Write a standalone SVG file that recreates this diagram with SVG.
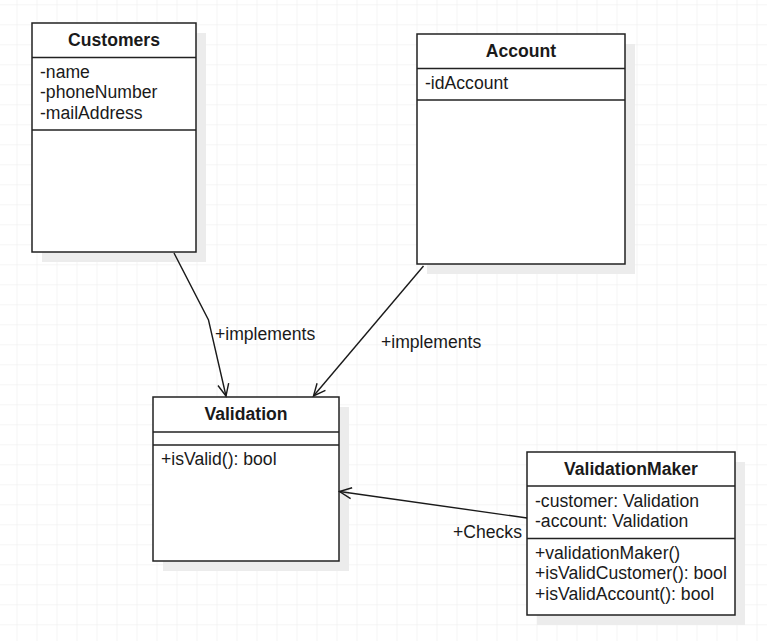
<svg xmlns="http://www.w3.org/2000/svg" width="767" height="641" viewBox="0 0 767 641">
<defs>
<pattern id="grid" x="-2.5" y="4.3" width="20" height="20" patternUnits="userSpaceOnUse">
<path d="M0 0 H20 M20 0 V20" fill="none" stroke="#ebebeb" stroke-width="1"/>
</pattern>
<marker id="open" viewBox="-14 -7 16 14" refX="0" refY="0" markerWidth="16" markerHeight="14" markerUnits="userSpaceOnUse" orient="auto">
<path d="M-12,-5.5 L0,0 L-12,5.5" fill="none" stroke="#1a1a1a" stroke-width="1.4"/>
</marker>
</defs>
<style>
.box{fill:#fff;stroke:#222;stroke-width:1.5}
.shadow{fill:#ececec}
.sep{stroke:#222;stroke-width:1.5}
text{font-family:"Liberation Sans",Arial,sans-serif;font-size:17.6px;fill:#1a1a1a}
.title{font-weight:bold;text-anchor:middle}
.edge{fill:none;stroke:#1a1a1a;stroke-width:1.4;marker-end:url(#open)}
</style>
<rect width="767" height="641" fill="#fff"/>
<rect width="767" height="641" fill="url(#grid)"/>

<g id="customers">
<rect class="shadow" x="42" y="33" width="164" height="229"/>
<rect class="box" x="32" y="23" width="164" height="229"/>
<line class="sep" x1="32" y1="57.5" x2="196" y2="57.5"/>
<line class="sep" x1="32" y1="130" x2="196" y2="130"/>
<text class="title" x="114" y="45.7">Customers</text>
<text x="40" y="77.5">-name</text>
<text x="40" y="98">-phoneNumber</text>
<text x="40" y="118.5">-mailAddress</text>
</g>

<g id="account">
<rect class="shadow" x="427" y="44" width="208" height="230"/>
<rect class="box" x="417" y="34" width="208" height="230"/>
<line class="sep" x1="417" y1="68.5" x2="625" y2="68.5"/>
<line class="sep" x1="417" y1="100" x2="625" y2="100"/>
<text class="title" x="521" y="56.5">Account</text>
<text x="425" y="88.5">-idAccount</text>
</g>

<g id="validation">
<rect class="shadow" x="163" y="407" width="186" height="164"/>
<rect class="box" x="153" y="397" width="186" height="164"/>
<line class="sep" x1="153" y1="432" x2="339" y2="432"/>
<line class="sep" x1="153" y1="445" x2="339" y2="445"/>
<text class="title" x="246" y="420">Validation</text>
<text x="161" y="465">+isValid(): bool</text>
</g>

<g id="validationmaker">
<rect class="shadow" x="537" y="462" width="208" height="163"/>
<rect class="box" x="527" y="452" width="208" height="163"/>
<line class="sep" x1="527" y1="486" x2="735" y2="486"/>
<line class="sep" x1="527" y1="538.5" x2="735" y2="538.5"/>
<text class="title" x="631" y="475">ValidationMaker</text>
<text x="535" y="506.7">-customer: Validation</text>
<text x="535" y="526.7">-account: Validation</text>
<text x="535" y="559">+validationMaker()</text>
<text x="535" y="579.3">+isValidCustomer(): bool</text>
<text x="535" y="599.5">+isValidAccount(): bool</text>
</g>

<g id="connectors">
<polyline class="edge" points="174,253 208.5,320 226,396"/>
<text x="215" y="339.5">+implements</text>
<polyline class="edge" points="423.5,266 313.5,396"/>
<text x="381" y="347.5">+implements</text>
<polyline class="edge" points="527,518 339.5,491.5"/>
<text x="453" y="537.5">+Checks</text>
</g>
</svg>
